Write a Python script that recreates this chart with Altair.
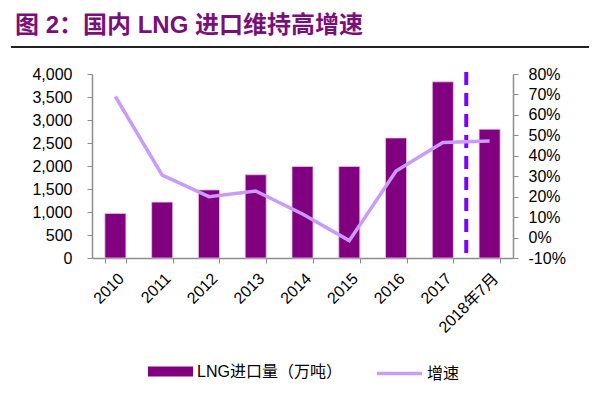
import altair as alt
import pandas as pd

categories = ["2010", "2011", "2012", "2013", "2014", "2015", "2016", "2017", "2018年7月"]
imports = [970, 1215, 1480, 1810, 1990, 1990, 2610, 3830, 2800]
growth = [0.69, 0.305, 0.20, 0.228, 0.115, -0.015, 0.325, 0.465, 0.472]

bar_name = "LNG进口量（万吨）"
line_name = "增速"

df = pd.DataFrame({"cat": categories, "imports": imports, "growth": growth})
df["bar_s"] = bar_name
df["line_s"] = line_name

FONT = "Liberation Sans, Arial, Noto Sans CJK SC"
PURPLE = "#800080"
LAVENDER = "#C99BFA"
VIOLET = "#7F00FF"

x_enc = alt.X(
    "cat:N",
    sort=categories,
    scale=alt.Scale(paddingInner=0.55, paddingOuter=0.275),
    axis=alt.Axis(
        title=None,
        labelAngle=-45,
        labelFontSize=16,
        labelFont=FONT,
        labelColor="#000000",
        domainColor="#8c8c8c",
        domainWidth=1.5,
        tickColor="#8c8c8c",
        tickBand="extent",
        tickSize=5,
        labelPadding=7,
    ),
)

bars = alt.Chart(df).mark_bar(stroke="#e6c6e6", strokeWidth=0.8).encode(
    x=x_enc,
    y=alt.Y(
        "imports:Q",
        scale=alt.Scale(domain=[0, 4000], nice=False),
        axis=alt.Axis(
            title=None,
            values=[0, 500, 1000, 1500, 2000, 2500, 3000, 3500, 4000],
            format=",.0f",
            labelFontSize=16,
            labelFont=FONT,
            labelColor="#000000",
            grid=False,
            domainColor="#8c8c8c",
            domainWidth=1.5,
            tickColor="#8c8c8c",
            tickSize=5,
            labelPadding=15,
        ),
    ),
    fill=alt.Fill(
        "bar_s:N",
        scale=alt.Scale(domain=[bar_name], range=[PURPLE]),
        legend=alt.Legend(
            title=None,
            orient="none",
            legendX=56,
            legendY=275,
            symbolType="M-1,-0.22L1,-0.22L1,0.22L-1,0.22Z",
            symbolSize=2025,
            symbolStrokeWidth=0,
            labelFontSize=16,
            labelFont=FONT,
            labelColor="#000000",
            labelOffset=4,
            padding=0,
        ),
    ),
)

line = alt.Chart(df).mark_line(strokeWidth=3.5).encode(
    x=alt.X("cat:N", sort=categories),
    y=alt.Y(
        "growth:Q",
        scale=alt.Scale(domain=[-0.1, 0.8], nice=False),
        axis=alt.Axis(
            title=None,
            orient="right",
            values=[-0.1, 0, 0.1, 0.2, 0.3, 0.4, 0.5, 0.6, 0.7, 0.8],
            labelExpr="replace(format(datum.value, '.0%'), '−', '-')",
            labelFontSize=16,
            labelFont=FONT,
            labelColor="#000000",
            grid=False,
            domainColor="#8c8c8c",
            domainWidth=1.5,
            tickColor="#8c8c8c",
            tickSize=5,
            labelPadding=10,
        ),
    ),
    stroke=alt.Stroke(
        "line_s:N",
        scale=alt.Scale(domain=[line_name], range=[LAVENDER]),
        legend=alt.Legend(
            title=None,
            orient="none",
            legendX=283,
            legendY=275,
            symbolType="stroke",
            symbolSize=2025,
            symbolStrokeWidth=3.5,
            labelFontSize=16,
            labelFont=FONT,
            labelColor="#000000",
            labelOffset=3,
            padding=0,
        ),
    ),
)

divider_df = pd.DataFrame({"cat": ["2017"]})
divider = alt.Chart(divider_df).mark_rule(
    color=VIOLET, strokeWidth=4, strokeDash=[13, 8], xOffset=12.9
).encode(
    x=alt.X("cat:N", sort=categories, bandPosition=1),
    y=alt.value(-2),
    y2=alt.value(184),
)

underline = alt.Chart(divider_df).mark_rule(color="#222222", strokeWidth=2).encode(
    x=alt.value(-81),
    x2=alt.value(497),
    y=alt.value(-27),
)

chart = (
    alt.layer(bars, divider, line, underline)
    .resolve_scale(y="independent", fill="independent", stroke="independent")
    .properties(
        width=421,
        height=184,
        autosize=alt.AutoSizeParams(type="none"),
        padding={"left": 84, "top": 66, "right": 79, "bottom": 127},
        title=alt.TitleParams(
            text="图 2：国内 LNG 进口维持高增速",
            anchor="start",
            frame="group",
            dx=-77,
            dy=-4,
            font="Liberation Sans, Noto Sans CJK SC",
            fontSize=24,
            fontWeight="bold",
            color="#7A0F7A",
        ),
    )
    .configure_view(stroke=None)
)

chart.save("out.html", embed_options={"renderer": "svg", "actions": False})
